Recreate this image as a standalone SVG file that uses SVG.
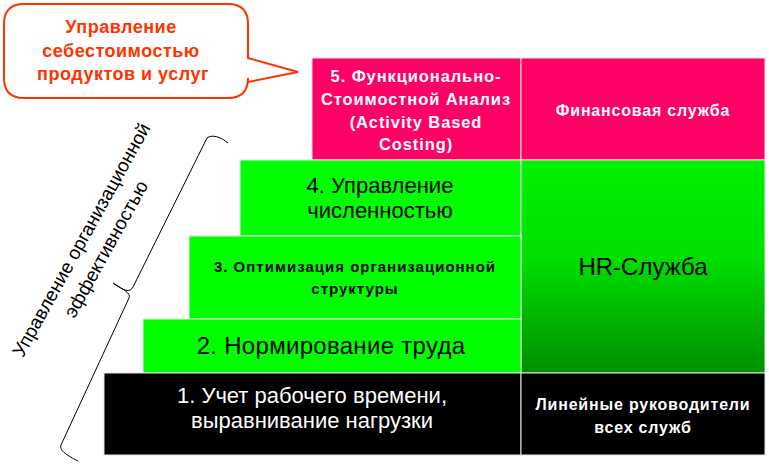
<svg xmlns="http://www.w3.org/2000/svg" width="769" height="470" viewBox="0 0 769 470">
  <defs>
    <linearGradient id="hrGrad" x1="0" y1="0" x2="0" y2="1">
      <stop offset="0" stop-color="#00f000"/>
      <stop offset="0.45" stop-color="#00e000"/>
      <stop offset="1" stop-color="#008f00"/>
    </linearGradient>
    <style>
      .box { stroke: #e6e6e6; stroke-width: 1; }
      .pink { fill: #ff0066; }
      .green { fill: #00ff00; }
      .black { fill: #000000; }
      text { font-family: "Liberation Sans", Arial, sans-serif; text-anchor: middle; }
      .wb { fill: #ffffff; font-weight: bold; font-size: 16px; letter-spacing: 0.8px; }
      .p5 { font-size: 16.5px; letter-spacing: 0.9px; }
      .wn { fill: #ffffff; font-size: 22px; }
      .bn { fill: #000000; }
      .call { fill: #ff3300; font-weight: bold; font-size: 18px; letter-spacing: 0.5px; }
      .side { fill: #000000; font-size: 19px; }
    </style>
  </defs>

  <g id="callout">
    <path d="M24,4 H228 Q248,4 248,24 V58 L298,72 L248,82 V78 Q248,98 228,98 H24 Q4,98 4,78 V24 Q4,4 24,4 Z" fill="#ffffff" stroke="#ff3300" stroke-width="2"/>
    <text class="call" x="121" y="33">Управление</text>
    <text class="call" x="121" y="57">себестоимостью</text>
    <text class="call" x="123" y="80">продуктов и услуг</text>
  </g>

  <g id="node5">
    <rect class="box pink" x="312" y="58" width="209" height="102"/>
    <text class="wb p5" x="416" y="82">5. Функционально-</text>
    <text class="wb p5" x="416" y="105">Стоимостной Анализ</text>
    <text class="wb p5" x="416" y="128">(Activity Based</text>
    <text class="wb p5" x="416" y="150">Costing)</text>
  </g>

  <g id="finance">
    <rect class="box pink" x="521" y="58" width="244" height="102"/>
    <text class="wb" x="643" y="116">Финансовая служба</text>
  </g>

  <g id="node4">
    <rect class="box green" x="240" y="160" width="281" height="76"/>
    <text class="bn" x="380" y="193" font-size="22">4. Управление</text>
    <text class="bn" x="380" y="218" font-size="22">численностью</text>
  </g>

  <g id="hr">
    <rect class="box" fill="url(#hrGrad)" x="521" y="160" width="244" height="213"/>
    <text class="bn" x="643" y="275" font-size="24">HR-Служба</text>
  </g>

  <g id="node3">
    <rect class="box green" x="189" y="236" width="332" height="83"/>
    <text class="bn" x="355" y="272" font-size="15" font-weight="bold" letter-spacing="1">3. Оптимизация организационной</text>
    <text class="bn" x="355" y="294" font-size="15" font-weight="bold" letter-spacing="1">структуры</text>
  </g>

  <g id="node2">
    <rect class="box green" x="143" y="319" width="378" height="54"/>
    <text class="bn" x="331" y="354" font-size="24" letter-spacing="0.3">2. Нормирование труда</text>
  </g>

  <g id="node1">
    <rect class="box black" x="104" y="373" width="417" height="82"/>
    <text class="wn" x="312" y="403">1. Учет рабочего времени,</text>
    <text class="wn" x="312" y="428">выравнивание нагрузки</text>
  </g>

  <g id="managers">
    <rect class="box black" x="521" y="373" width="244" height="82"/>
    <text class="wb" x="643" y="410">Линейные руководители</text>
    <text class="wb" x="643" y="433">всех служб</text>
  </g>

  <g id="connectors">
    <path d="M228,143 C221,137 212,134 207,138 L133,287 C130,293 124,291 113,283 C124,290 131,293 129,298 L61,445 C59,450 66,455 78,461" fill="none" stroke="#000000" stroke-width="1"/>
  </g>

  <g id="side-label" transform="translate(87,243) rotate(-61)">
    <text class="side" x="0" y="0">Управление организационной</text>
    <text class="side" x="4" y="26">эффективностью</text>
  </g>
</svg>
